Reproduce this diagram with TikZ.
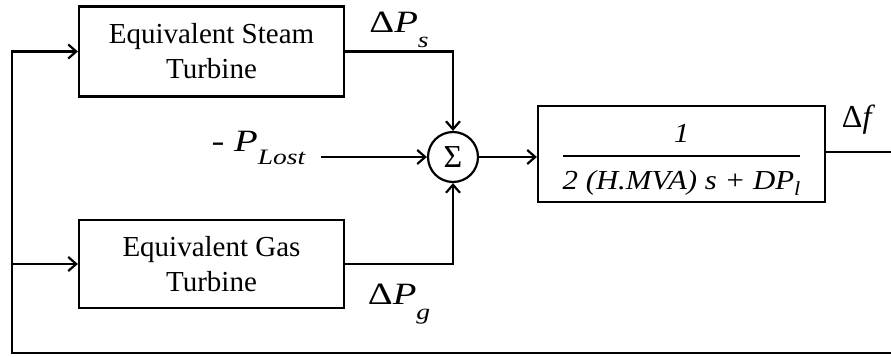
\documentclass[tikz,border=0pt]{standalone}
\usepackage{fontspec}
\setmainfont{Liberation Serif}
\newfontfamily\lblfont{Liberation Serif}[FakeStretch=1.25]
\newfontfamily\fracfont{Liberation Serif}[FakeStretch=1.12]
\usetikzlibrary{arrows.meta,positioning}

\newcommand{\lowsub}[2][15pt]{\raisebox{-#1}{\fontsize{22}{22}\selectfont\textit{#2}}}

\begin{document}
\begin{tikzpicture}[x=1pt, y=-1pt, line width=2.2pt,
  >={Straight Barb[length=8pt,width=14pt]},
  blk/.style={draw, align=center, inner sep=0pt, font=\fontsize{29}{35}\selectfont},
  lbl/.style={inner sep=2pt, font=\lblfont\fontsize{31}{31}\selectfont}]
\useasboundingbox (0,0) rectangle (891,356);
% turbine blocks
\node[blk, minimum width=265pt, minimum height=90pt] (steam) at (211.5,51.5) {Equivalent Steam\\Turbine};
\node[blk, minimum width=265pt, minimum height=88pt] (gas) at (211.5,264) {Equivalent Gas\\Turbine};
% summing junction and power system
\node[draw, circle, minimum size=50pt, inner sep=0pt, font=\fontsize{32}{32}\selectfont] (sum) at (453,157) {Σ};
\node[blk, minimum width=287pt, minimum height=96pt, font=\fracfont\fontsize{27.5}{35}\selectfont] (sys) at (681.5,154) {\setlength\arrayrulewidth{2pt}%
  \begin{tabular}{@{}c@{}}\rule{0pt}{34pt}\textit{1}\\[2pt]\hline
  \rule{0pt}{32pt}\textit{2 (H.MVA) s + DP}\raisebox{-6pt}{\fontsize{20}{20}\selectfont\textit{l}}\end{tabular}};
\node[lbl, anchor=east] (lost) at ([xshift=-118pt, yshift=9pt]sum.west) {- \textit{P}\lowsub[13pt]{Lost}};
\coordinate (out) at (891,152);
\coordinate (fbR) at (891,353);
\coordinate (fbL) at (12,353);

\draw[->] (steam.east) -| node[lbl, pos=0.25, above=1pt] {Δ\textit{P}\lowsub{s}} (sum.north);
\draw[->] (gas.east) -| node[lbl, pos=0.25, below=17pt] {Δ\textit{P}\lowsub{g}} (sum.south);
\draw[->] ([xshift=12pt]lost.east |- sum.west) -- (sum.west);
\draw[->] (sum.east) -- (sum.east -| sys.west);
\draw (sys.east |- out) -- node[lbl, above=15pt, font=\fontsize{32}{32}\selectfont] {Δ\textit{f}} (out);
% feedback
\draw[->] (fbR) -- (fbL) |- (steam.west);
\draw[->] (fbL |- gas.west) -- (gas.west);
\end{tikzpicture}
\end{document}
